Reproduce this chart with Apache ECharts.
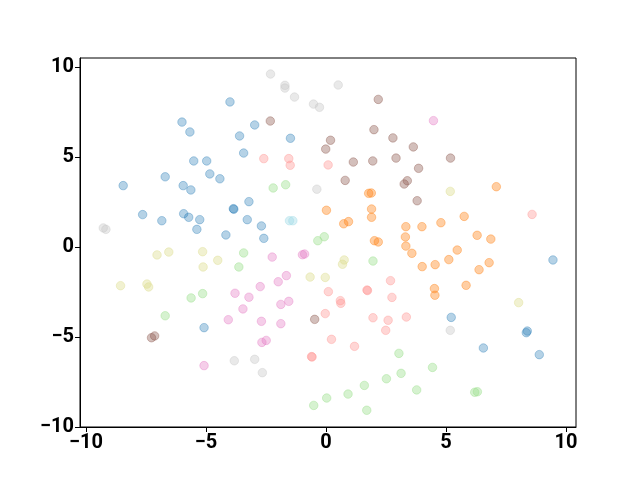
<!DOCTYPE html>
<html><head><meta charset="utf-8">
<script src="https://cdn.jsdelivr.net/npm/echarts@6/dist/echarts.min.js"></script>
<style>html,body{margin:0;padding:0;background:#fff}#c{width:640px;height:480px}</style>
</head><body><div id="c"></div>
<script>
const tickValues = [-10, -5, 0, 5, 10];
const blue = [[-4.0,8.06],[-6.0,6.94],[-5.67,6.39],[-2.97,6.78],[-3.6,6.17],[-1.48,6.04],[-3.43,5.22],[-5.51,4.78],[-4.97,4.78],[-4.84,4.06],[-4.42,3.79],[-6.7,3.9],[-8.45,3.41],[-5.95,3.41],[-5.63,3.17],[-3.21,2.52],[-3.86,2.13],[-3.84,2.1],[-7.64,1.8],[-5.93,1.85],[-5.72,1.65],[-6.84,1.46],[-5.26,1.52],[-3.28,1.52],[-2.69,1.17],[-5.38,0.98],[-4.17,0.67],[-2.59,0.48],[-5.08,-4.48],[9.46,-0.72],[5.22,-3.91],[8.39,-4.67],[8.35,-4.76],[6.56,-5.61],[8.89,-5.98]];
const gray = [[-9.28,1.06],[-9.17,0.98],[-2.31,9.61],[-1.71,8.98],[-1.71,8.83],[-1.31,8.33],[0.51,9.0],[-0.52,7.94],[-0.27,7.76],[-0.38,3.21],[-2.97,-6.24],[-2.65,-6.98],[-3.82,-6.32],[5.18,-4.63]];
const brown = [[-2.32,7.0],[2.18,8.2],[2.0,6.52],[2.79,6.06],[0.19,5.93],[-0.01,5.44],[1.14,4.72],[1.95,4.78],[2.92,4.94],[3.64,5.56],[0.8,3.7],[3.26,3.5],[3.39,3.68],[5.19,4.94],[3.86,4.37],[3.8,2.57],[-7.27,-5.04],[-7.14,-4.94],[-0.47,-4.02]];
const orange = [[1.78,2.98],[1.89,3.0],[0.02,2.04],[1.9,2.11],[1.9,1.65],[0.74,1.29],[0.94,1.41],[2.02,0.35],[2.18,0.28],[3.33,1.13],[3.31,0.56],[3.33,0.05],[3.58,-0.35],[7.1,3.35],[5.76,1.7],[4.79,1.35],[4.0,1.13],[6.3,0.65],[6.87,0.44],[5.47,-0.17],[4.01,-1.09],[4.55,-0.98],[5.12,-0.7],[6.38,-1.26],[6.8,-0.87],[4.52,-2.31],[4.54,-2.68],[5.84,-2.13]];
const pink = [[4.48,7.02],[-3.79,-2.57],[-3.21,-2.79],[-3.46,-3.44],[-4.07,-4.04],[-5.08,-6.59],[-2.24,-0.56],[-0.98,-0.43],[-0.89,-0.39],[-1.65,-1.59],[-1.99,-1.93],[-2.74,-2.2],[-1.55,-3.02],[-1.88,-3.19],[-2.69,-4.13],[-1.88,-4.26],[-2.67,-5.3],[-2.49,-5.19]];
const olive = [[-7.04,-0.44],[-6.55,-0.28],[-5.14,-0.26],[-4.51,-0.74],[-5.12,-1.11],[-8.56,-2.15],[-7.46,-2.06],[-7.39,-2.22],[0.76,-0.72],[0.69,-0.96],[-0.66,-1.67],[-0.03,-1.69],[5.18,3.09],[8.03,-3.09]];
const green = [[-2.2,3.28],[-1.68,3.46],[-0.34,0.35],[-0.07,0.57],[-3.43,-0.33],[-3.63,-1.11],[-5.14,-2.59],[-5.62,-2.83],[-6.7,-3.82],[1.96,-0.78],[3.04,-5.91],[3.13,-7.02],[2.52,-7.32],[1.6,-7.69],[0.92,-8.17],[0.03,-8.39],[-0.51,-8.8],[1.7,-9.07],[4.44,-6.69],[3.78,-7.94],[6.2,-8.07],[6.31,-8.04]];
const red = [[-2.59,4.91],[-1.55,4.91],[-1.49,4.54],[0.09,4.56],[8.59,1.81],[0.1,-2.48],[0.6,-2.98],[0.62,-3.13],[1.71,-2.39],[1.73,-2.42],[2.69,-1.87],[2.75,-2.8],[-0.03,-3.7],[1.96,-3.93],[2.59,-4.07],[3.35,-3.89],[2.49,-4.63],[0.23,-5.13],[1.19,-5.52],[-0.6,-6.09],[-0.58,-6.11]];
const cyan = [[-1.52,1.46],[-1.38,1.46]];

const groups = [
  [blue, '#1f77b4', 0.33], [orange, '#ff7f0e', 0.38], [green, '#98df8a', 0.4], [red, '#ff9896', 0.4],
  [brown, '#8c564b', 0.38], [pink, '#e377c2', 0.36], [gray, '#c7c7c7', 0.4], [olive, '#dbdb8d', 0.4], [cyan, '#9edae5', 0.4]
];
const fmt = v => String(v).replace('-', '\u2212');
const labelFont = { fontFamily: 'Roboto', fontWeight: 'bold', fontSize: 20, color: '#000' };
const axisCommon = {
  type: 'value',
  axisLine: { show: true, onZero: false, lineStyle: { color: '#000', width: 1 } },
  axisTick: { show: true, inside: false, length: 5, lineStyle: { color: '#000', width: 1 }, customValues: tickValues },
  axisLabel: Object.assign({ margin: 6, formatter: fmt, customValues: tickValues, showMinLabel: true, showMaxLabel: true }, labelFont),
  splitLine: { show: false }
};
const chart = echarts.init(document.getElementById('c'), null, { renderer: 'canvas' });
chart.setOption({
  animation: false,
  backgroundColor: '#fff',
  grid: { left: 80, top: 58, right: 64, bottom: 53, show: true, borderColor: '#000', borderWidth: 1, backgroundColor: 'transparent' },
  xAxis: Object.assign({}, axisCommon, { min: -10.25, max: 10.42 }),
  yAxis: Object.assign({}, axisCommon, { min: -10, max: 10.5 }),
  series: groups.map(([d, c, a]) => ({
    type: 'scatter',
    data: d,
    symbolSize: 8.5,
    itemStyle: { color: c, opacity: a, borderColor: c, borderWidth: 1 }
  }))
});
</script>
</body></html>
